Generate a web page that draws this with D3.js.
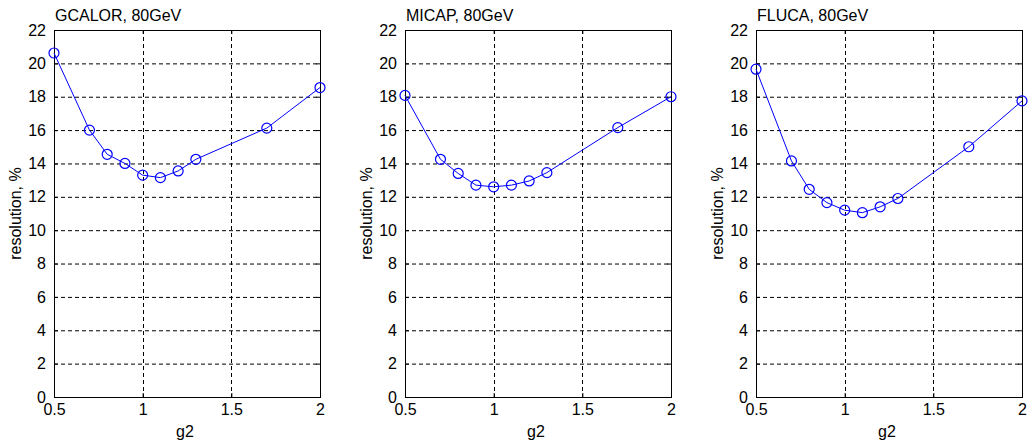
<!DOCTYPE html>
<html>
<head>
<meta charset="utf-8">
<script src="https://cdn.jsdelivr.net/npm/d3@7"></script>
<style>
  html, body { margin: 0; padding: 0; background: #ffffff; }
  svg { display: block; }
  text { font-family: "Liberation Sans", Arial, sans-serif; fill: #000; }
</style>
</head>
<body>
<svg id="chart" width="1028" height="446"></svg>
<script>
// ---- data ----
const g2Values = [0.5, 0.7, 0.8, 0.9, 1.0, 1.1, 1.2, 1.3, 1.7, 2.0];
const gcalorRes = [20.62, 16.0, 14.55, 14.0, 13.3, 13.15, 13.55, 14.25, 16.12, 18.55];
const micapRes  = [18.08, 14.25, 13.4, 12.7, 12.6, 12.7, 12.95, 13.45, 16.15, 18.0];
const flucaRes  = [19.65, 14.15, 12.45, 11.65, 11.2, 11.05, 11.4, 11.9, 15.0, 17.75];
const panelTitles = ["GCALOR, 80GeV", "MICAP, 80GeV", "FLUCA, 80GeV"];
const xTicks = [0.5, 1, 1.5, 2];
const xTickLabels = ["0.5", "1", "1.5", "2"];
const yTicks = [0, 2, 4, 6, 8, 10, 12, 14, 16, 18, 20, 22];
const xLabel = "g2";
const yLabel = "resolution, %";

const seriesList = [gcalorRes, micapRes, flucaRes];
const panelLefts = [54, 405, 756];
const plotW = 266, plotTop = 30, plotBottom = 397;

const svg = d3.select("#chart");

seriesList.forEach((vals, i) => {
  const left = panelLefts[i];
  const x = d3.scaleLinear().domain([0.5, 2]).range([left, left + plotW]);
  const y = d3.scaleLinear().domain([0, 22]).range([plotBottom, plotTop]);
  const g = svg.append("g");

  // grid
  g.selectAll("line.hgrid").data(yTicks.slice(1, -1)).enter().append("line")
    .attr("x1", left).attr("x2", left + plotW)
    .attr("y1", d => y(d) + 0.5).attr("y2", d => y(d) + 0.5)
    .attr("stroke", "#000").attr("stroke-width", 1).attr("stroke-dasharray", "4,3");
  g.selectAll("line.vgrid").data(xTicks.slice(1, -1)).enter().append("line")
    .attr("y1", plotTop).attr("y2", plotBottom)
    .attr("x1", d => Math.round(x(d)) + 0.5).attr("x2", d => Math.round(x(d)) + 0.5)
    .attr("stroke", "#000").attr("stroke-width", 1).attr("stroke-dasharray", "4,3");

  // axes
  const xAxis = d3.axisBottom(x).tickValues(xTicks).tickFormat((d, k) => xTickLabels[k])
    .tickSizeInner(-4).tickSizeOuter(0).tickPadding(10);
  const yAxis = d3.axisLeft(y).tickValues(yTicks).tickFormat(d3.format("d"))
    .tickSizeInner(-4).tickSizeOuter(0).tickPadding(8);
  const gx = g.append("g").attr("transform", `translate(0,${plotBottom})`).call(xAxis);
  const gy = g.append("g").attr("transform", `translate(${left},0)`).call(yAxis);
  [gx, gy].forEach(a => {
    a.select(".domain").remove();
    a.selectAll("line").attr("stroke", "#000");
    a.selectAll("text").attr("font-size", 16).attr("font-family", '"Liberation Sans", Arial, sans-serif').attr("fill", "#000");
  });
  gx.selectAll("text").attr("dy", "0.71em").attr("y", 7);
  // right & top ticks
  const gyr = g.append("g").attr("transform", `translate(${left + plotW},0)`)
    .call(d3.axisRight(y).tickValues(yTicks).tickSizeInner(-4).tickSizeOuter(0).tickFormat(""));
  gyr.select(".domain").remove();
  const gxt = g.append("g").attr("transform", `translate(0,${plotTop})`)
    .call(d3.axisTop(x).tickValues(xTicks).tickSizeInner(-4).tickSizeOuter(0).tickFormat(""));
  gxt.select(".domain").remove();

  // box
  g.append("rect").attr("x", left + 0.5).attr("y", plotTop + 0.5)
    .attr("width", plotW).attr("height", plotBottom - plotTop)
    .attr("fill", "none").attr("stroke", "#000").attr("stroke-width", 1);

  // line
  const pts = g2Values.map((gv, k) => [gv, vals[k]]);
  g.append("path").datum(pts)
    .attr("d", d3.line().x(d => x(d[0])).y(d => y(d[1])))
    .attr("fill", "none").attr("stroke", "#0000ff").attr("stroke-width", 1);
  g.selectAll("circle.m").data(pts).enter().append("circle")
    .attr("cx", d => x(d[0])).attr("cy", d => y(d[1])).attr("r", 5)
    .attr("fill", "none").attr("stroke", "#0000ff").attr("stroke-width", 1.2);

  // title
  g.append("text").attr("x", left + 1).attr("y", 21)
    .attr("font-size", 16).text(panelTitles[i]);
  // x label
  g.append("text").attr("x", left + plotW / 2 - 2).attr("y", 437)
    .attr("text-anchor", "middle").attr("font-size", 16).text(xLabel);
  // y label
  g.append("text").attr("transform", `translate(${left - 33},${(plotTop + plotBottom) / 2}) rotate(-90)`)
    .attr("text-anchor", "middle").attr("font-size", 16).text(yLabel);
});
</script>
</body>
</html>
